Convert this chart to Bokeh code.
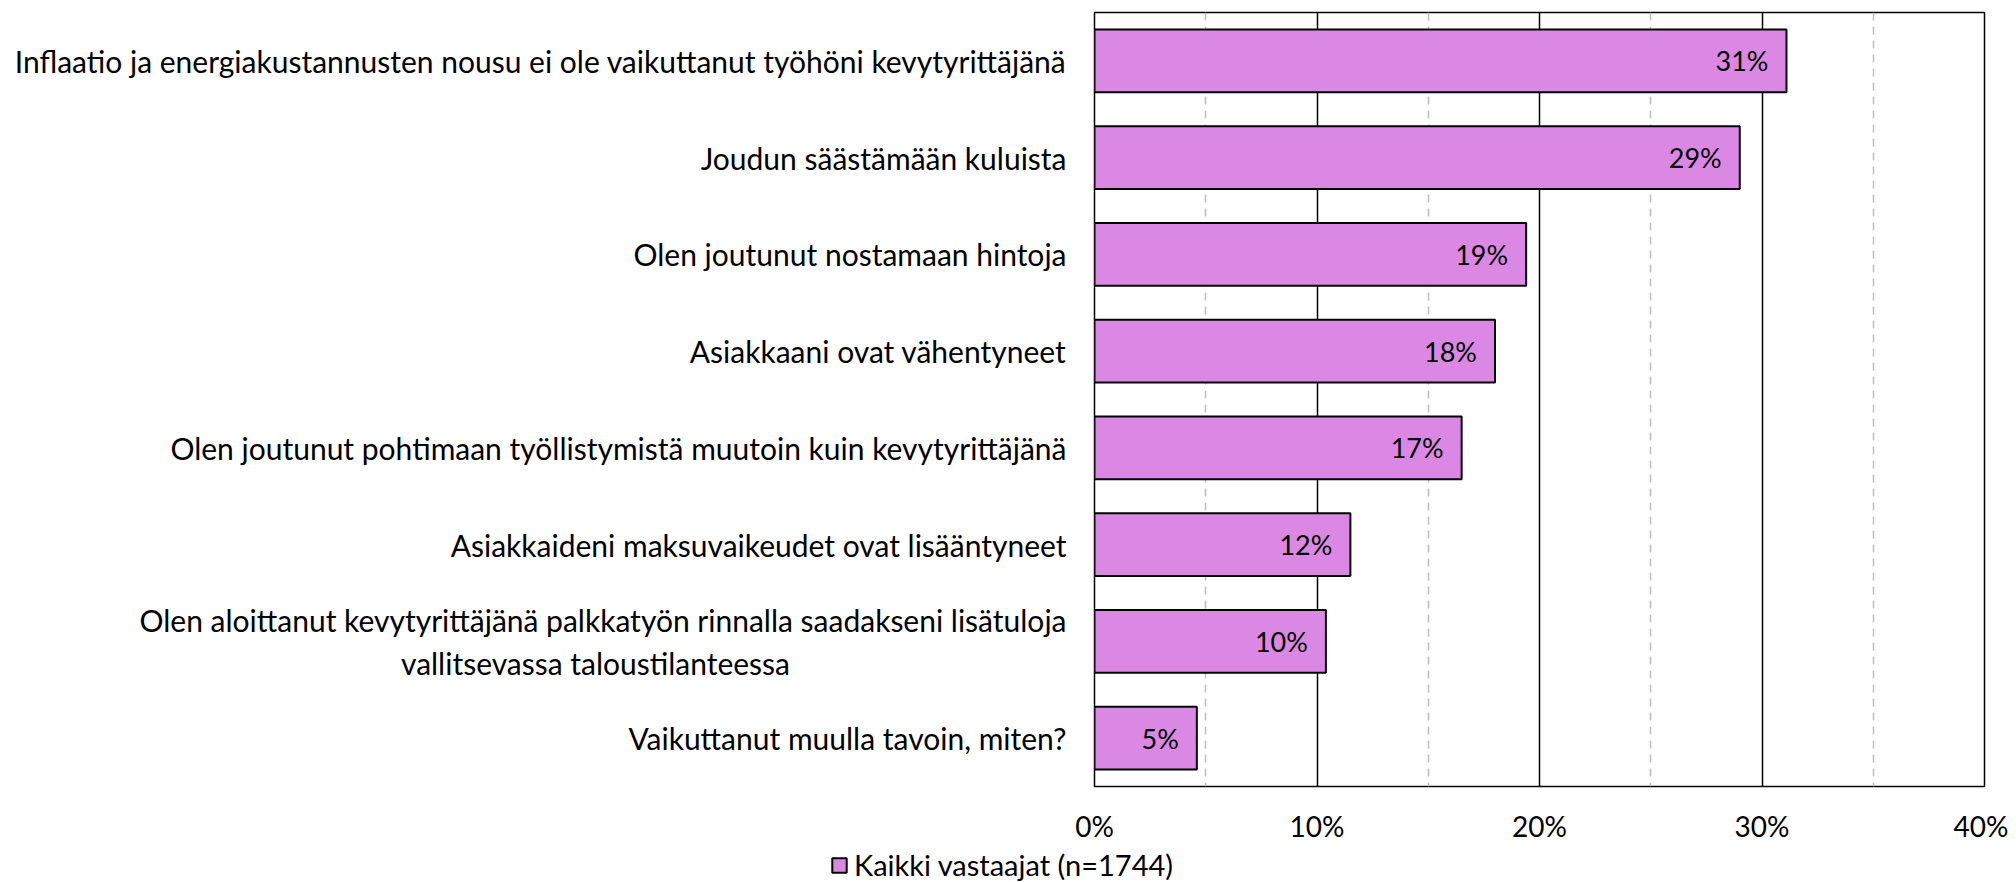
from bokeh.plotting import figure
from bokeh.layouts import column
from bokeh.models import ColumnDataSource, FixedTicker, NumeralTickFormatter, Legend, LegendItem, Range1d
from bokeh.core.properties import value
from bokeh.embed import file_html
from bokeh.resources import INLINE

categories = [
    "Inflaatio ja energiakustannusten nousu ei ole vaikuttanut työhöni kevytyrittäjänä",
    "Joudun säästämään kuluista",
    "Olen joutunut nostamaan hintoja",
    "Asiakkaani ovat vähentyneet",
    "Olen joutunut pohtimaan työllistymistä muutoin kuin kevytyrittäjänä",
    "Asiakkaideni maksuvaikeudet ovat lisääntyneet",
    "Olen aloittanut kevytyrittäjänä palkkatyön rinnalla saadakseni lisätuloja\nvallitsevassa taloustilanteessa",
    "Vaikuttanut muulla tavoin, miten?",
]
values = [0.311, 0.290, 0.194, 0.180, 0.165, 0.115, 0.104, 0.046]
value_labels = ["31%", "29%", "19%", "18%", "17%", "12%", "10%", "5%"]
series_name = "Kaikki vastaajat (n=1744)"
x_ticks = [0.0, 0.1, 0.2, 0.3, 0.4]
x_minor = [0.05, 0.15, 0.25, 0.35]

n = len(categories)
pos = list(range(n))

# display text for the y axis; the second line of a wrapped label is padded so it sits centred
NB = "\u00a0"
def display(c):
    if "\n" in c:
        a, b = c.split("\n")
        return a + "\n" + b + NB * 36
    return c
overrides = {i: display(c) for i, c in zip(pos, categories)}

FONT = "Lato"
FS_CAT = "30px"
FS_TICK = "28px"
FS_VAL = "27px"
FS_LEG = "29px"
BAR = "#DA88E3"

src = ColumnDataSource(dict(y=pos, cat=categories, val=values, lab=value_labels))

p = figure(
    y_range=Range1d(n - 0.5, -0.5), x_range=Range1d(0, 0.4),
    frame_width=890, frame_height=774,
    min_border_left=1094, min_border_top=12, min_border_right=24, min_border_bottom=60,
    output_backend="svg", toolbar_location=None,
)

r = p.hbar(y="y", right="val", left=0, height=0.65, source=src,
           fill_color=BAR, line_color="black", line_width=2)

p.text(x="val", y="y", text="lab", source=src, x_offset=-18,
       text_align="right", text_baseline="middle",
       text_font=value(FONT), text_font_size=FS_VAL, text_color="black")

p.xaxis.ticker = FixedTicker(ticks=x_ticks, minor_ticks=x_minor)
p.xaxis.formatter = NumeralTickFormatter(format="0%")
p.xaxis.axis_line_color = None
p.xaxis.major_tick_line_color = None
p.xaxis.minor_tick_line_color = None
p.xaxis.major_label_standoff = 16
p.xaxis.major_label_text_font = FONT
p.xaxis.major_label_text_font_size = FS_TICK
p.xaxis.major_label_text_color = "black"

p.yaxis.ticker = FixedTicker(ticks=pos, minor_ticks=[])
p.yaxis.major_label_overrides = overrides
p.yaxis.axis_line_color = None
p.yaxis.major_tick_line_color = None
p.yaxis.minor_tick_line_color = None
p.yaxis.major_label_standoff = 22
p.yaxis.major_label_text_font = FONT
p.yaxis.major_label_text_font_size = FS_CAT
p.yaxis.major_label_text_color = "black"

p.ygrid.grid_line_color = None
p.xgrid.grid_line_color = "black"
p.xgrid.grid_line_width = 1.5
p.xgrid.minor_grid_line_color = "#bfbfbf"
p.xgrid.minor_grid_line_width = 1.5
p.xgrid.minor_grid_line_dash = "8 6"

p.outline_line_color = "black"
p.outline_line_width = 1.5

# separate strip below the chart that carries the legend
lf = figure(frame_width=2008, frame_height=36,
            min_border_left=0, min_border_right=0, min_border_top=0, min_border_bottom=0,
            x_range=Range1d(0, 1), y_range=Range1d(0, 1),
            output_backend="svg", toolbar_location=None)
lf.axis.visible = False
lf.grid.visible = False
lf.outline_line_color = None
# legend proxy for the series: a bar with no drawable position (NaN), so only its legend swatch shows
leg_src = ColumnDataSource(dict(y=[float("nan")], val=[float("nan")]))
r_leg = lf.hbar(y="y", right="val", left=0, height=0.65, source=leg_src,
                fill_color=BAR, line_color="black", line_width=2)
legend = Legend(items=[LegendItem(label=series_name, renderers=[r_leg])],
                orientation="horizontal", location=(830, 0),
                label_text_font=FONT, label_text_font_size=FS_LEG, label_text_color="black",
                glyph_width=18, glyph_height=18, label_standoff=6,
                padding=0, margin=0, border_line_color=None,
                background_fill_alpha=0)
lf.add_layout(legend)

layout = column(p, lf, spacing=0)
open("out.html", "w").write(file_html(layout, INLINE))
